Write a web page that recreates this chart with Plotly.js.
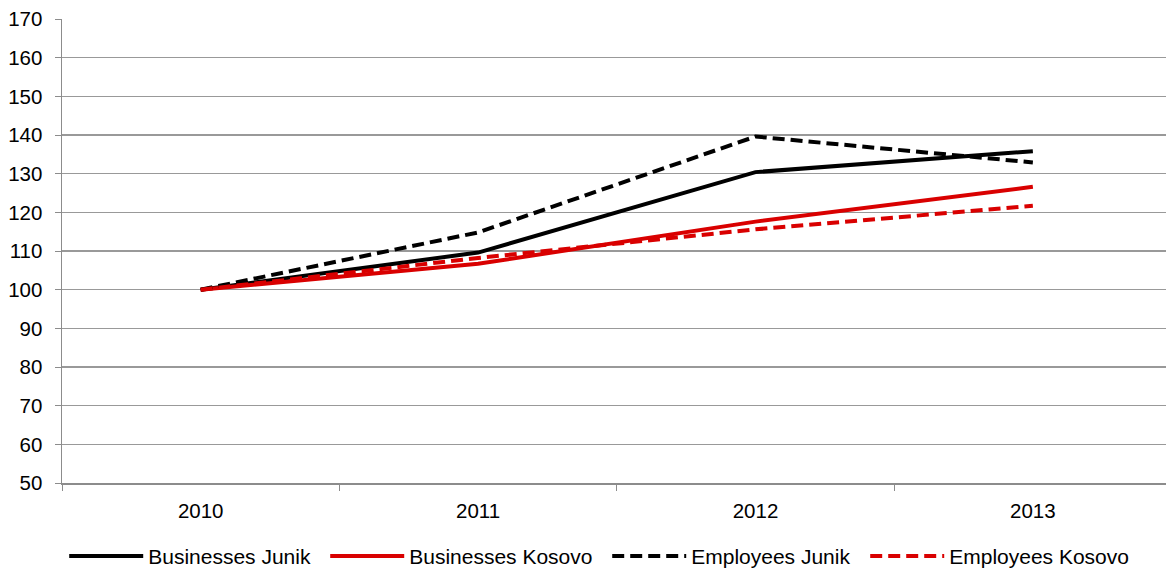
<!DOCTYPE html>
<html>
<head>
<meta charset="utf-8">
<script src="https://cdn.plot.ly/plotly-3.0.1.min.js"></script>
<style>html,body{margin:0;padding:0;background:#fff;}#chart{width:1166px;height:571px;}</style>
</head>
<body>
<div id="chart"></div>
<script>
const years = ["2010", "2011", "2012", "2013"];
const businessesJunik = [100, 109.6, 130.4, 135.8];
const businessesKosovo = [100, 106.7, 117.6, 126.6];
const employeesJunik = [100, 114.8, 139.6, 132.9];
const employeesKosovo = [100, 108.2, 115.6, 121.7];
const yTicks = [50, 60, 70, 80, 90, 100, 110, 120, 130, 140, 150, 160, 170];

const traces = [
  {x: years, y: businessesJunik, name: "Businesses Junik", legendwidth: 172, mode: "lines", line: {color: "#000000", width: 4}},
  {x: years, y: businessesKosovo, name: "Businesses Kosovo", legendwidth: 193, mode: "lines", line: {color: "#d90000", width: 4}},
  {x: years, y: employeesJunik, name: "Employees Junik", legendwidth: 169, mode: "lines", line: {color: "#000000", width: 4, dash: "12px,6px"}},
  {x: years, y: employeesKosovo, name: "Employees Kosovo", legendwidth: 190, mode: "lines", line: {color: "#d90000", width: 4, dash: "12px,6px"}}
];

const layout = {
  width: 1166, height: 571,
  margin: {l: 62, r: 0, t: 19, b: 88, autoexpand: false},
  paper_bgcolor: "#ffffff", plot_bgcolor: "#ffffff",
  font: {family: "Liberation Sans, Arial, sans-serif", size: 20.5, color: "#000"},
  showlegend: true,
  legend: {orientation: "h", x: 0.002, xanchor: "left", y: -0.114, yanchor: "top",
           font: {size: 21}, itemwidth: 74, traceorder: "normal"},
  xaxis: {
    type: "category", range: [-0.5, 3.48],
    showgrid: false, zeroline: false,
    showline: true, linecolor: "#8c8c8c", linewidth: 1.5,
    ticks: "outside", tickson: "boundaries", ticklen: 6, tickcolor: "#8c8c8c",
    tickfont: {size: 20.5}, ticklabelstandoff: 9, automargin: false
  },
  yaxis: {
    range: [50, 170], tickvals: yTicks, ticktext: yTicks.map(String),
    showgrid: true, gridcolor: "#999999", gridwidth: 1.5,
    zeroline: false, showline: true, linecolor: "#8c8c8c", linewidth: 1.5,
    ticks: "outside", ticklen: 6, tickcolor: "#8c8c8c",
    tickfont: {size: 20.5}, ticklabelstandoff: 8, automargin: false
  }
};

Plotly.newPlot("chart", traces, layout, {displayModeBar: false, staticPlot: true});
</script>
</body>
</html>
